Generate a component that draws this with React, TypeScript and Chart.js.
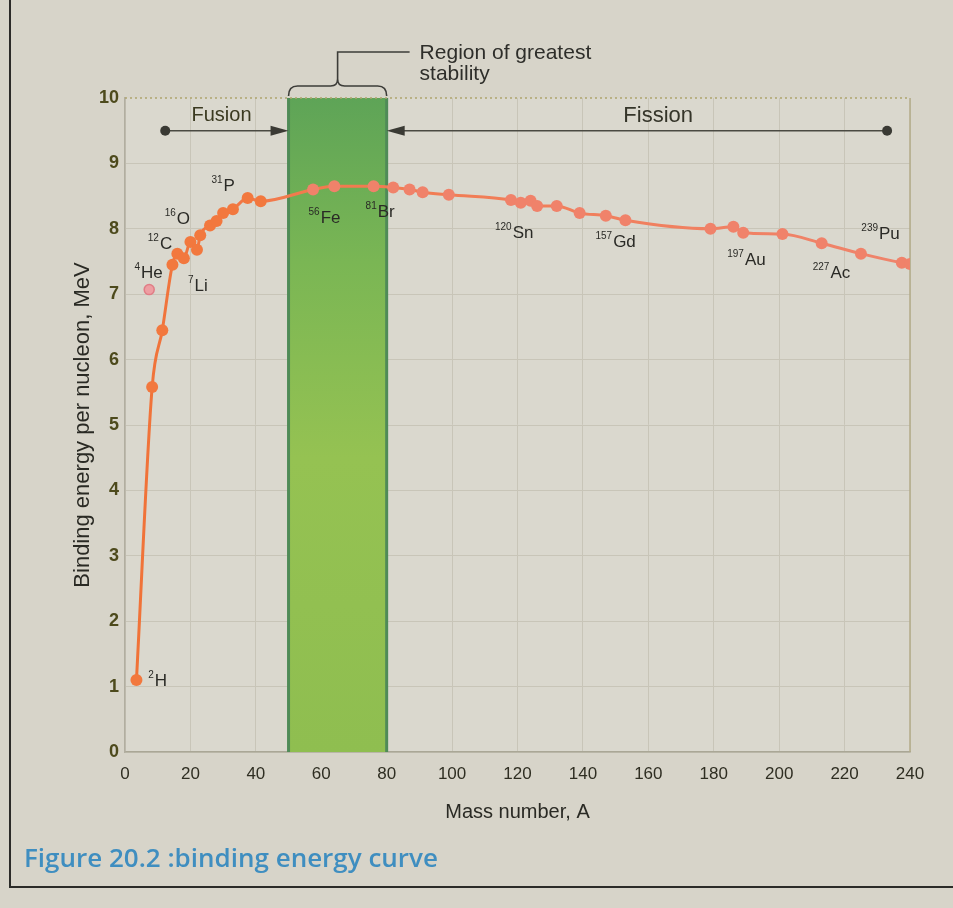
import React, { useEffect, useRef } from 'react';
import { Chart, registerables } from 'chart.js';

Chart.register(...registerables);

// ---------- data ----------
const massNumbers = [3.5, 8.3, 11.4, 14.5, 16, 18, 20, 22, 23, 26, 28, 30, 33, 37.5, 41.5, 57.5, 64, 76, 82, 87, 91, 99, 118, 121, 124, 126, 132, 139, 147, 153, 179, 186, 189, 201, 213, 225, 237.5, 240];
const bindingEnergies = [1.1, 5.58, 6.45, 7.45, 7.62, 7.55, 7.8, 7.68, 7.9, 8.05, 8.12, 8.24, 8.3, 8.47, 8.42, 8.6, 8.65, 8.65, 8.63, 8.6, 8.56, 8.52, 8.44, 8.4, 8.43, 8.35, 8.35, 8.24, 8.2, 8.13, 8.0, 8.03, 7.94, 7.92, 7.78, 7.62, 7.48, 7.46];

const heliumMass = [7.4];
const heliumEnergy = [7.07];

const xTicks = [0, 20, 40, 60, 80, 100, 120, 140, 160, 180, 200, 220, 240];
const yTicks = [0, 1, 2, 3, 4, 5, 6, 7, 8, 9, 10];

const nuclideMass = ['2', '4', '7', '12', '16', '31', '56', '81', '120', '157', '197', '227', '239'];
const nuclideSymbol = ['H', 'He', 'Li', 'C', 'O', 'P', 'Fe', 'Br', 'Sn', 'Gd', 'Au', 'Ac', 'Pu'];
const nuclideLabelA = [10, 7.2, 22.3, 10.7, 16, 30, 61, 78, 119, 150, 190, 216, 231];
const nuclideLabelBE = [1.12, 7.36, 7.15, 7.8, 8.18, 8.68, 8.2, 8.28, 7.97, 7.83, 7.56, 7.36, 7.95];

const stableRange = [50, 80];
const fusionRange = [12.3, 50];
const fissionRange = [233, 80];
const arrowEnergy = 9.5;
const fusionLabel = { text: 'Fusion', a: 29.5, be: 9.73 };
const fissionLabel = { text: 'Fission', a: 163, be: 9.73 };
const regionText = ['Region of greatest', 'stability'];
const captionText = 'Figure 20.2 :binding energy curve';
const xTitle = 'Mass number, A';
const yTitle = 'Binding energy per nucleon, MeV';

const FONT = '"Liberation Sans", Arial, Helvetica, sans-serif';

const annotationPlugin = {
  id: 'bindingAnnotations',
  beforeDraw(chart: any) {
    const { ctx, chartArea: a } = chart;
    ctx.save();
    ctx.fillStyle = '#dad8ce';
    ctx.fillRect(a.left, a.top, a.right - a.left, a.bottom - a.top);
    ctx.restore();
  },
  beforeDatasetsDraw(chart: any) {
    const { ctx, chartArea: a, scales } = chart;
    const x = scales.x, y = scales.y;
    ctx.save();
    // stability band
    const l = x.getPixelForValue(stableRange[0]);
    const r = x.getPixelForValue(stableRange[1]);
    const t = y.getPixelForValue(10);
    const b = y.getPixelForValue(0);
    const g = ctx.createLinearGradient(0, t, 0, b);
    g.addColorStop(0, '#5ea457');
    g.addColorStop(0.25, '#7ab654');
    g.addColorStop(0.55, '#95c252');
    g.addColorStop(1, '#8fbe50');
    ctx.fillStyle = g;
    ctx.fillRect(l, t, r - l, b - t);
    ctx.strokeStyle = '#4f8b57';
    ctx.lineWidth = 3;
    ctx.beginPath();
    ctx.moveTo(l, t); ctx.lineTo(l, b);
    ctx.moveTo(r, t); ctx.lineTo(r, b);
    ctx.stroke();

    // top dotted border at 10
    ctx.strokeStyle = '#aea46e';
    ctx.lineWidth = 1.5;
    ctx.setLineDash([2, 3]);
    ctx.beginPath();
    ctx.moveTo(a.left, t); ctx.lineTo(a.right, t);
    ctx.stroke();
    ctx.setLineDash([]);
    // right border
    ctx.strokeStyle = '#b3ab88';
    ctx.lineWidth = 1.5;
    ctx.beginPath();
    ctx.moveTo(a.right, t); ctx.lineTo(a.right, b);
    ctx.stroke();

    // arrows
    const ay = y.getPixelForValue(arrowEnergy);
    const drawArrow = (from: number, to: number) => {
      const x0 = x.getPixelForValue(from);
      const x1 = x.getPixelForValue(to);
      const dir = x1 > x0 ? 1 : -1;
      ctx.strokeStyle = '#4a4a42';
      ctx.fillStyle = '#3a3a34';
      ctx.lineWidth = 1.6;
      ctx.beginPath();
      ctx.moveTo(x0, ay); ctx.lineTo(x1 - dir * 14, ay);
      ctx.stroke();
      ctx.beginPath();
      ctx.arc(x0, ay, 5, 0, Math.PI * 2);
      ctx.fill();
      ctx.beginPath();
      ctx.moveTo(x1, ay);
      ctx.lineTo(x1 - dir * 18, ay - 5);
      ctx.lineTo(x1 - dir * 18, ay + 5);
      ctx.closePath();
      ctx.fill();
    };
    drawArrow(fusionRange[0], fusionRange[1]);
    drawArrow(fissionRange[0], fissionRange[1]);

    ctx.textAlign = 'center';
    ctx.textBaseline = 'middle';
    ctx.font = `20px ${FONT}`;
    ctx.fillStyle = '#3a3920';
    ctx.fillText(fusionLabel.text, x.getPixelForValue(fusionLabel.a), y.getPixelForValue(fusionLabel.be));
    ctx.font = `22px ${FONT}`;
    ctx.fillStyle = '#35352a';
    ctx.fillText(fissionLabel.text, x.getPixelForValue(fissionLabel.a), y.getPixelForValue(fissionLabel.be));

    // bracket above band
    const xc = (l + r) / 2;
    const by = t - 12;
    ctx.strokeStyle = '#3c3c38';
    ctx.lineWidth = 1.6;
    ctx.beginPath();
    ctx.moveTo(l, t - 2);
    ctx.quadraticCurveTo(l, by, l + 9, by);
    ctx.lineTo(xc - 7, by);
    ctx.quadraticCurveTo(xc, by, xc, by - 7);
    ctx.quadraticCurveTo(xc, by, xc + 7, by);
    ctx.lineTo(r - 9, by);
    ctx.quadraticCurveTo(r, by, r, t - 2);
    ctx.moveTo(xc, by - 7);
    ctx.lineTo(xc, t - 46);
    ctx.lineTo(xc + 72, t - 46);
    ctx.stroke();

    ctx.font = `21px ${FONT}`;
    ctx.textAlign = 'left';
    ctx.fillStyle = '#2e2e2a';
    ctx.fillText(regionText[0], xc + 82, t - 45);
    ctx.fillText(regionText[1], xc + 82, t - 24);
    ctx.restore();
  },
  afterDatasetsDraw(chart: any) {
    const { ctx, scales } = chart;
    const x = scales.x, y = scales.y;
    ctx.save();
    ctx.fillStyle = '#2a2a26';
    ctx.textBaseline = 'alphabetic';
    ctx.textAlign = 'left';
    nuclideSymbol.forEach((sym, i) => {
      const mass = nuclideMass[i];
      const cx = x.getPixelForValue(nuclideLabelA[i]);
      const cy = y.getPixelForValue(nuclideLabelBE[i]);
      ctx.font = `10px ${FONT}`;
      const mw = ctx.measureText(mass).width;
      ctx.font = `17px ${FONT}`;
      const sw = ctx.measureText(sym).width;
      const start = cx - (mw + sw + 1) / 2;
      ctx.font = `10px ${FONT}`;
      ctx.fillText(mass, start, cy - 1);
      ctx.font = `17px ${FONT}`;
      ctx.fillText(sym, start + mw + 1, cy + 7);
    });
    ctx.restore();
  },
  afterDraw(chart: any) {
    const { ctx } = chart;
    ctx.save();
    // caption
    ctx.font = `600 26px "Open Sans", Lato, sans-serif`;
    ctx.fillStyle = '#3f8ec0';
    ctx.textAlign = 'left';
    ctx.textBaseline = 'middle';
    ctx.fillText(captionText, 24, 860);
    // frame of the figure box
    ctx.strokeStyle = '#2b2b28';
    ctx.lineWidth = 2;
    ctx.beginPath();
    ctx.moveTo(10, 0);
    ctx.lineTo(10, 887);
    ctx.lineTo(953, 887);
    ctx.stroke();
    ctx.restore();
  },
};

export default function App() {
  const canvasRef = useRef<HTMLCanvasElement | null>(null);

  useEffect(() => {
    if (!canvasRef.current) return;
    const mainData = massNumbers.map((a, i) => ({ x: a, y: bindingEnergies[i] }));
    const heData = heliumMass.map((a, i) => ({ x: a, y: heliumEnergy[i] }));

    const chart = new Chart(canvasRef.current, {
      type: 'line',
      data: {
        datasets: [
          {
            data: mainData,
            borderColor: (c: any) => {
              const ch = c.chart;
              const area = ch.chartArea;
              if (!area) return '#f07a50';
              const gr = ch.ctx.createLinearGradient(area.left, 0, area.right, 0);
              gr.addColorStop(0, '#f07236');
              gr.addColorStop(0.2, '#f27a4c');
              gr.addColorStop(1, '#ef846c');
              return gr;
            },
            borderWidth: 3,
            pointRadius: 6,
            pointBorderWidth: 0,
            pointBackgroundColor: (c: any) => (c.raw && c.raw.x < 50 ? '#f2783e' : '#f0826a'),
            cubicInterpolationMode: 'monotone',
            fill: false,
          },
          {
            data: heData,
            showLine: false,
            pointRadius: 5,
            pointBackgroundColor: '#ee9ea2',
            pointBorderColor: '#e07d86',
            pointBorderWidth: 1.5,
          },
        ],
      },
      options: {
        animation: false,
        responsive: false,
        devicePixelRatio: 1,
        font: { family: FONT },
        layout: { padding: { left: 0, right: 43, top: 98, bottom: 76 } },
        plugins: { legend: { display: false }, tooltip: { enabled: false } },
        scales: {
          x: {
            type: 'linear',
            min: 0,
            max: 240,
            afterBuildTicks: (s: any) => { s.ticks = xTicks.map((v) => ({ value: v })); },
            afterFit: (s: any) => { s.height = 80; },
            ticks: { color: '#2f2e22', font: { family: FONT, size: 17 }, padding: 12, maxRotation: 0, autoSkip: false },
            grid: { color: '#c8c5b8', lineWidth: 1, drawTicks: false },
            border: { color: '#aaa796', width: 1.5 },
            title: { display: true, text: xTitle, color: '#2a2a24', font: { family: FONT, size: 20 }, padding: { top: 0, bottom: 8 } },
          },
          y: {
            type: 'linear',
            min: 0,
            max: 10,
            afterBuildTicks: (s: any) => { s.ticks = yTicks.map((v) => ({ value: v })); },
            afterFit: (s: any) => { s.width = 125; },
            ticks: { color: '#4d4a1c', font: { family: FONT, size: 18, weight: 'bold' }, padding: 6 },
            grid: {
              color: (c: any) => (c.tick && c.tick.value === 10 ? 'rgba(0,0,0,0)' : '#c8c5b8'),
              lineWidth: 1,
              drawTicks: false,
            },
            border: { color: '#b1aea0', width: 1.5 },
            title: { display: true, text: yTitle, color: '#2a2a24', font: { family: FONT, size: 22 }, padding: { top: 70, bottom: 0 } },
          },
        },
      },
      plugins: [annotationPlugin],
    } as any);
    return () => chart.destroy();
  }, []);

  return (
    <div style={{ position: 'absolute', left: 0, top: 0, width: 953, height: 908, background: '#d7d4c9' }}>
      <canvas ref={canvasRef} width={953} height={908} />
    </div>
  );
}
